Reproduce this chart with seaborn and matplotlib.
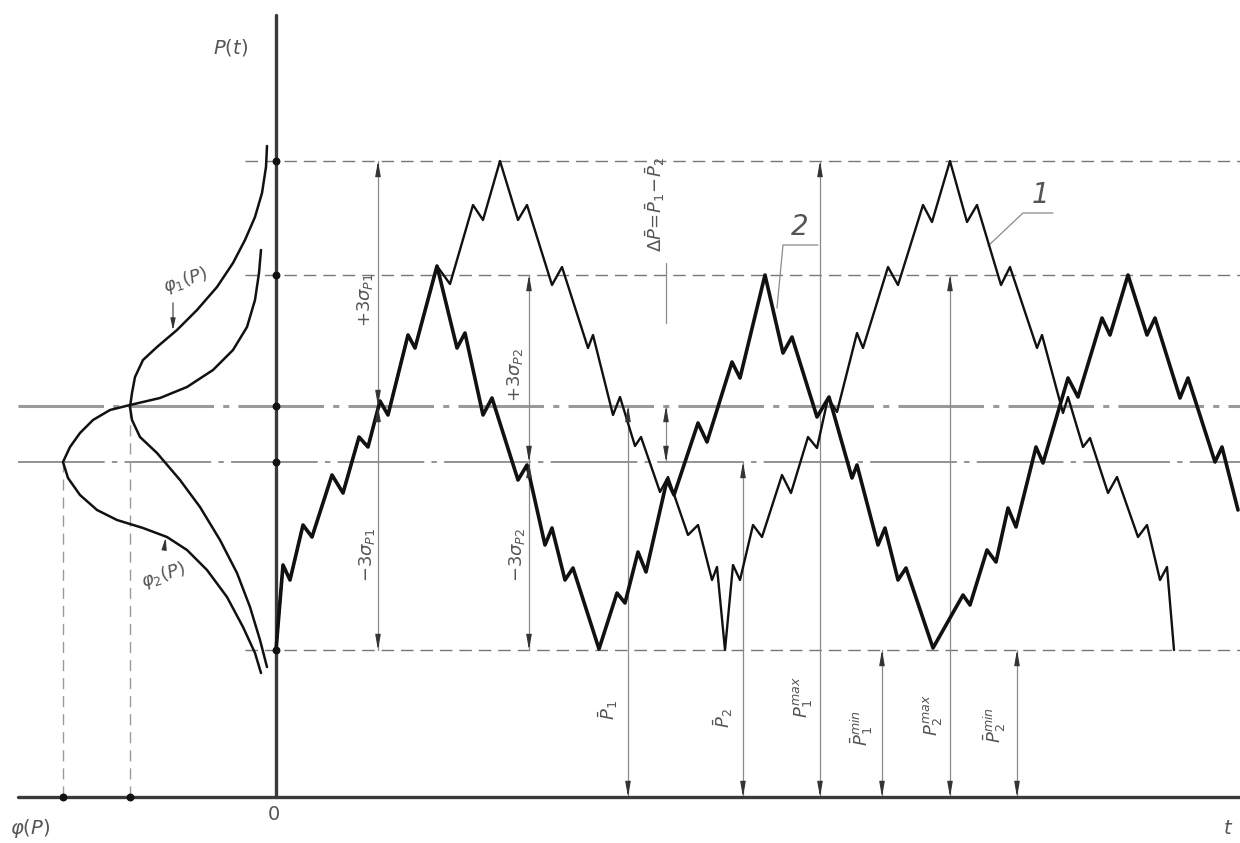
import matplotlib
matplotlib.use("Agg")
import matplotlib.pyplot as plt
import seaborn as sns

# P(t) signal levels (t, P in drawing units, origin at the axes crossing)
P_max1, P_max2 = 636, 522
P_mean1, P_mean2 = 391, 335
P_min = 147

# shared rising start of both processes
start_t = [0, 7, 14, 27, 36, 56, 67, 83, 92, 104, 112, 132, 139, 161]
start_p = [147, 232, 217, 272, 260, 322, 304, 360, 350, 396, 382, 462, 449, 531]

# process 1 (thin line)
line1_t = start_t + [174, 197, 207, 224, 242, 251, 276, 286, 312, 317, 337, 344, 359, 365,
                     384, 392, 412, 422, 436, 441, 449, 457, 464, 477, 486, 506, 515, 532,
                     541, 552, 561, 581, 587, 612, 622, 647, 656, 674, 691, 701, 725, 734,
                     761, 766, 787, 792, 807, 814, 832, 841, 862, 871, 884, 891, 898]
line1_p = start_p + [513, 592, 577, 636, 577, 592, 512, 530, 449, 462, 382, 400, 351, 360,
                     305, 320, 262, 272, 217, 230, 147, 232, 217, 272, 260, 322, 304, 360,
                     349, 399, 385, 464, 449, 530, 512, 592, 575, 636, 575, 592, 512, 530,
                     449, 462, 384, 400, 350, 359, 304, 320, 260, 272, 217, 230, 147]

# process 2 (thick line)
line2_t = start_t + [181, 189, 207, 216, 242, 251, 269, 276, 289, 297, 323, 341, 349, 362,
                     370, 391, 398, 422, 431, 456, 464, 489, 507, 516, 541, 553, 576, 581,
                     602, 609, 622, 630, 657, 687, 694, 711, 720, 732, 740, 760, 767, 792,
                     802, 826, 834, 852, 871, 879, 904, 912, 939, 946, 962]
line2_p = start_p + [449, 464, 382, 399, 317, 332, 252, 269, 217, 229, 148, 204, 194, 245,
                     225, 317, 302, 374, 355, 435, 419, 522, 444, 460, 380, 400, 319, 332,
                     252, 269, 217, 229, 149, 202, 192, 247, 235, 289, 270, 350, 334, 419,
                     400, 479, 462, 522, 462, 479, 399, 419, 335, 350, 287]

# density curves phi1(P), phi2(P) drawn to the left of the P axis
phi1_t = [-9, -10, -14, -21, -31, -43, -59, -79, -99, -119, -133, -141, -144, -146,
          -144, -136, -119, -96, -76, -56, -39, -26, -16, -9]
phi1_p = [651, 630, 604, 580, 557, 534, 510, 487, 467, 450, 437, 420, 404, 390,
          377, 360, 344, 317, 290, 257, 224, 190, 157, 130]
phi2_t = [-15, -17, -21, -29, -43, -63, -89, -116, -146, -166, -183, -196, -206, -213,
          -208, -196, -179, -159, -133, -109, -89, -69, -49, -33, -21, -15]
phi2_p = [547, 524, 497, 470, 447, 427, 410, 399, 392, 387, 377, 364, 350, 335,
          319, 302, 287, 277, 269, 260, 247, 227, 200, 170, 144, 124]

sns.set_style("white")
plt.rcParams["mathtext.fontset"] = "dejavusans"
plt.rcParams["font.family"] = ["DejaVu Sans"]

fig = plt.figure(figsize=(12.4, 8.43), dpi=100)
ax = fig.add_axes([0, 0, 1, 1])
ax.set_xlim(-276, 964)
ax.set_ylim(-46, 797)
ax.axis("off")

grey = "#8a8a8a"
txt = "#555555"

# axes of the drawing
ax.plot([0, 0], [0, 782], color="#3a3a3a", lw=2.4, zorder=3)
ax.plot([-258, 964], [0, 0], color="#3a3a3a", lw=2.4, zorder=3)

# level lines
for p in (P_max1, P_max2, P_min):
    ax.plot([-31, 964], [p, p], color="#777777", lw=1.0, ls=(0, (9, 5)), zorder=1)
ax.plot([-258, 964], [P_mean1, P_mean1], color="#9a9a9a", lw=2.2, ls=(0, (28, 3, 2, 3)), zorder=1)
ax.plot([-258, 964], [P_mean2, P_mean2], color="#8a8a8a", lw=1.3, ls=(0, (48, 4, 3, 4)), zorder=1)

# projections of the density maxima
ax.plot([-213, -213], [0, P_mean2], color="#9a9a9a", lw=1.0, ls=(0, (8, 5)), zorder=1)
ax.plot([-146, -146], [0, P_mean1], color="#9a9a9a", lw=1.0, ls=(0, (8, 5)), zorder=1)

ax.scatter([0, 0, 0, 0, 0, -213, -146], [P_max1, P_max2, P_mean1, P_mean2, P_min, 0, 0],
           s=22, color="#111111", zorder=5)

# processes
sns.lineplot(x=line1_t, y=line1_p, sort=False, estimator=None, color="#111111", lw=1.7, ax=ax, zorder=4)
sns.lineplot(x=line2_t, y=line2_p, sort=False, estimator=None, color="#111111", lw=2.6, ax=ax, zorder=4)
sns.lineplot(x=phi1_t, y=phi1_p, sort=False, estimator=None, color="#111111", lw=1.8, ax=ax, zorder=4)
sns.lineplot(x=phi2_t, y=phi2_p, sort=False, estimator=None, color="#111111", lw=1.8, ax=ax, zorder=4)


def head(t, p, d):
    ax.annotate("", xy=(t, p), xytext=(t, p + d),
                arrowprops=dict(arrowstyle="-|>,head_length=0.9,head_width=0.16",
                                color="#333333", lw=0.8, shrinkA=0, shrinkB=0), zorder=6)


def dim(t, p0, p1):
    ax.plot([t, t], [p0, p1], color=grey, lw=0.9, zorder=2)
    s = 1 if p1 > p0 else -1
    head(t, p0, 14 * s)
    head(t, p1, -14 * s)


dim(102, P_max1, P_mean1)
dim(102, P_mean1, P_min)
dim(253, P_max2, P_mean2)
dim(253, P_mean2, P_min)
dim(390, P_mean1, P_mean2)
ax.plot([390, 390], [474, 534], color=grey, lw=0.9, zorder=2)
for t, p in [(352, P_mean1), (467, P_mean2), (544, P_max1), (606, P_min), (674, P_max2), (741, P_min)]:
    dim(t, p, 0)

# leaders for the process numbers
ax.plot([501, 507, 542], [489, 552, 552], color=grey, lw=0.9, zorder=2)
ax.plot([712, 747, 777], [551, 584, 584], color=grey, lw=0.9, zorder=2)
ax.text(524, 556, "2", fontsize=20, color=txt, style="italic", ha="center", va="bottom")
ax.text(764, 588, "1", fontsize=20, color=txt, style="italic", ha="center", va="bottom")

# density labels with arrows
ax.annotate("", xy=(-103, 464), xytext=(-103, 497),
            arrowprops=dict(arrowstyle="-|>,head_length=0.7,head_width=0.15", color="#333333", lw=0.8))
ax.annotate("", xy=(-110, 262), xytext=(-112, 246),
            arrowprops=dict(arrowstyle="-|>,head_length=0.7,head_width=0.15", color="#333333", lw=0.8))
ax.text(-91, 517, r"$\varphi_1(P)$", fontsize=13, color=txt, rotation=18, ha="center", va="center")
ax.text(-113, 222, r"$\varphi_2(P)$", fontsize=13, color=txt, rotation=18, ha="center", va="center")

# axis labels
ax.text(-46, 750, r"$P(t)$", fontsize=14, color=txt, ha="center", va="center")
ax.text(-3, -18, r"$0$", fontsize=14, color=txt, ha="center", va="center", style="italic")
ax.text(-246, -31, r"$\varphi(P)$", fontsize=14, color=txt, ha="center", va="center")
ax.text(952, -31, r"$t$", fontsize=14, color=txt, ha="center", va="center")

# dimension labels (rotated)
rot = dict(fontsize=13, color=txt, rotation=90, ha="center", va="center")
ax.text(89, 497, r"$+3\sigma_{P1}$", **rot)
ax.text(91, 242, r"$-3\sigma_{P1}$", **rot)
ax.text(239, 422, r"$+3\sigma_{P2}$", **rot)
ax.text(241, 242, r"$-3\sigma_{P2}$", **rot)
ax.text(379, 592, r"$\Delta\bar{P}\!=\!\bar{P}_1\!-\!\bar{P}_2$", **rot)
ax.text(332, 87, r"$\bar{P}_1$", **rot)
ax.text(447, 79, r"$\bar{P}_2$", **rot)
ax.text(526, 100, r"$P_1^{max}$", **rot)
ax.text(586, 69, r"$\bar{P}_1^{min}$", **rot)
ax.text(656, 82, r"$P_2^{max}$", **rot)
ax.text(719, 72, r"$\bar{P}_2^{min}$", **rot)

fig.savefig("out.png", dpi=100, facecolor="white")
